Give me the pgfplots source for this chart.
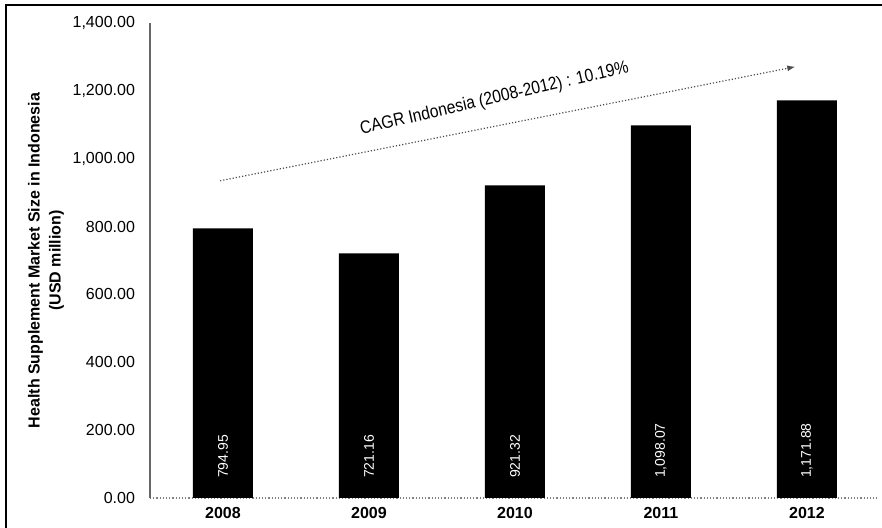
\documentclass[border=0pt]{standalone}
\usepackage{pgfplots}
\pgfplotsset{compat=1.18}
\usetikzlibrary{arrows.meta}
\usepackage{fontspec}
\setmainfont{Liberation Sans}
\begin{document}
\begin{tikzpicture}
\useasboundingbox (-75pt,-15pt) rectangle (366pt,249pt);
\fill[white] (-75pt,-15pt) rectangle (366pt,249pt);
\draw[line width=1.2pt] (-72pt,-15pt) -- (-72pt,246.5pt) -- (366pt,246.5pt);
\begin{axis}[
  scale only axis,
  width=363.5pt, height=237.5pt,
  xmin=-0.5, xmax=4.48,
  ymin=0, ymax=1400,
  axis x line=bottom, axis y line=left,
  axis line style={-},
  x axis line style={gray, densely dotted, line width=0.6pt},
  y axis line style={gray!80!black, line width=0.6pt},
  xtick={0,1,2,3,4},
  xticklabels={2008,2009,2010,2011,2012},
  ytick={0,200,400,600,800,1000,1200,1400},
  major tick length=0pt,
  tick label style={font=\fontsize{8}{9}\selectfont},
  xticklabel style={font=\fontsize{8}{9}\selectfont\bfseries, yshift=-1pt},
  yticklabel style={xshift=-4pt},
  /pgf/number format/assume math mode=true,
  yticklabel={\pgfmathprintnumber[fixed, fixed zerofill, precision=2, 1000 sep={,}]{\tick}},
  clip=false,
]
\addplot[ybar, bar width=30pt, fill=black, draw=none] table {
x y
0 794.95
1 721.16
2 921.32
3 1098.07
4 1171.88
};
\addplot[draw=none, mark=none, nodes near coords, point meta=explicit symbolic,
  every node near coord/.style={rotate=90, anchor=west, inner sep=0pt, white, font=\fontsize{7}{8}\selectfont}]
  table[meta=label] {
x y label
0 58 794.95
1 58 721.16
2 58 921.32
3 58 {1,098.07}
4 58 {1,171.88}
};
\draw[densely dotted, gray!60!black, line width=0.6pt, -{Latex[length=4pt,width=3pt]}] (axis cs:-0.02,935) -- (axis cs:3.92,1271);
\node[rotate=13, xscale=0.87, font=\fontsize{9}{10}\selectfont] at (axis cs:1.86,1176) {CAGR Indonesia (2008-2012) : 10.19\%};
\node[rotate=90, align=center, font=\fontsize{8}{10.5}\selectfont\bfseries] at ([xshift=-52pt]rel axis cs:0,0.5) {Health Supplement Market Size in Indonesia\\(USD million)};
\end{axis}
\end{tikzpicture}
\end{document}
